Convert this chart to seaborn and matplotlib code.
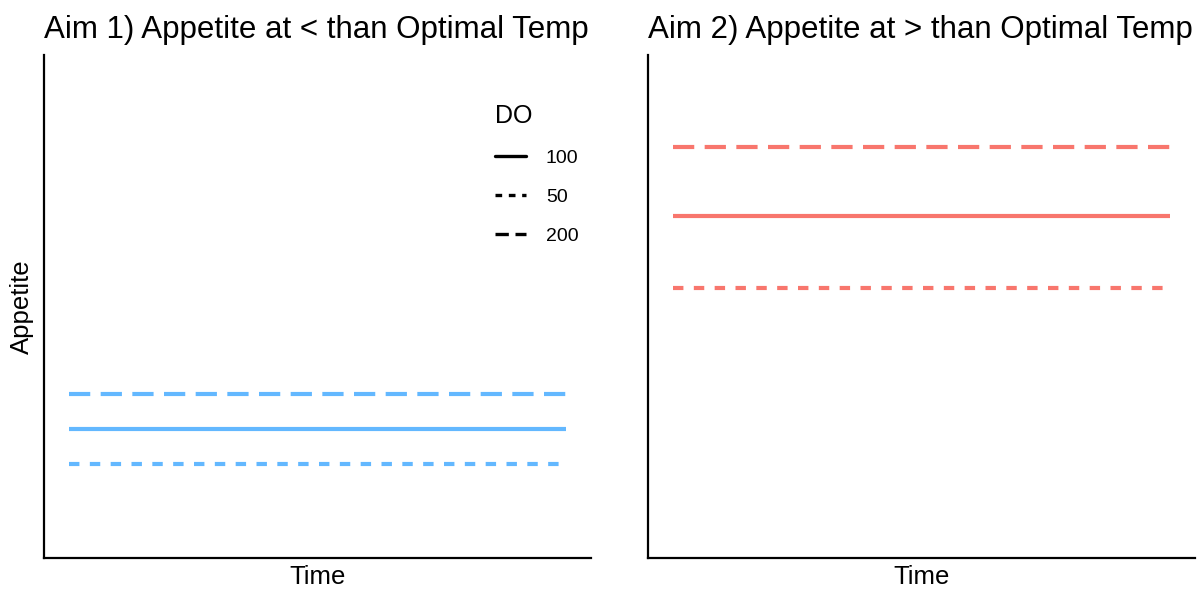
import matplotlib
matplotlib.use("Agg")
import matplotlib.pyplot as plt
import seaborn as sns
import pandas as pd
from matplotlib.lines import Line2D

sns.set_style("white")
plt.rcParams['font.family'] = ['Liberation Sans', 'DejaVu Sans']
plt.rcParams['text.color'] = 'black'
plt.rcParams['axes.labelcolor'] = 'black'

time_pts = [0, 10]
do_levels = ["100", "50", "200"]
aim1_appetite = {"100": 25.6, "50": 18.7, "200": 32.6}
aim2_appetite = {"100": 68.0, "50": 53.7, "200": 81.7}
titles = ["Aim 1) Appetite at < than Optimal Temp", "Aim 2) Appetite at > than Optimal Temp"]
colors = ["#63B8FF", "#F8766D"]

rows = []
for aim, vals in [("Aim 1", aim1_appetite), ("Aim 2", aim2_appetite)]:
    for do in do_levels:
        for t in time_pts:
            rows.append({"Aim": aim, "DO": do, "Time": t, "Appetite": vals[do]})
df = pd.DataFrame(rows)

lw = 3.0
dash_map = {"100": "", "50": (2.5, 2.5), "200": (5.1, 2.5)}

fig = plt.figure(figsize=(12.02, 5.9), dpi=100)
ax1 = fig.add_axes([44/1202, 1-558/590, 547/1202, 503/590])
ax2 = fig.add_axes([648/1202, 1-558/590, 547/1202, 503/590])

for ax, aim, title, col in zip([ax1, ax2], ["Aim 1", "Aim 2"], titles, colors):
    sub = df[df["Aim"] == aim]
    sns.lineplot(data=sub, x="Time", y="Appetite", style="DO", style_order=do_levels,
                 dashes=dash_map, color=col, linewidth=lw, ax=ax, legend=False)
    for ln in ax.lines:
        ln.set_solid_capstyle("butt")
        ln.set_dash_capstyle("butt")
    ax.set_ylim(0, 100)
    ax.set_xlim(-0.5, 10.5)
    ax.set_xticks([])
    ax.set_yticks([])
    ax.set_title(title, fontsize=22.5, loc="left", x=0.0, pad=12, color="black")
    ax.set_xlabel("Time", fontsize=18.5, labelpad=5)
    ax.set_ylabel("")
    for s in ["top", "right"]:
        ax.spines[s].set_visible(False)
    for s in ["left", "bottom"]:
        ax.spines[s].set_linewidth(1.6)
        ax.spines[s].set_color("black")

ax1.set_ylabel("Appetite", fontsize=18.5, labelpad=7)

handles = [Line2D([0], [0], color="black", lw=2.4, linestyle="-"),
           Line2D([0], [0], color="black", lw=2.4, dashes=(2.0, 2.0)),
           Line2D([0], [0], color="black", lw=2.4, dashes=(4.0, 2.0))]
leg = ax1.legend(handles, do_levels, title="DO", frameon=False, loc="upper left",
                 bbox_to_anchor=(0.793, 0.937), fontsize=14, title_fontsize=18,
                 handlelength=1.6, labelspacing=1.1, handletextpad=1.0)
leg._legend_box.align = "left"

fig.savefig("out.png", dpi=100, facecolor="white")
